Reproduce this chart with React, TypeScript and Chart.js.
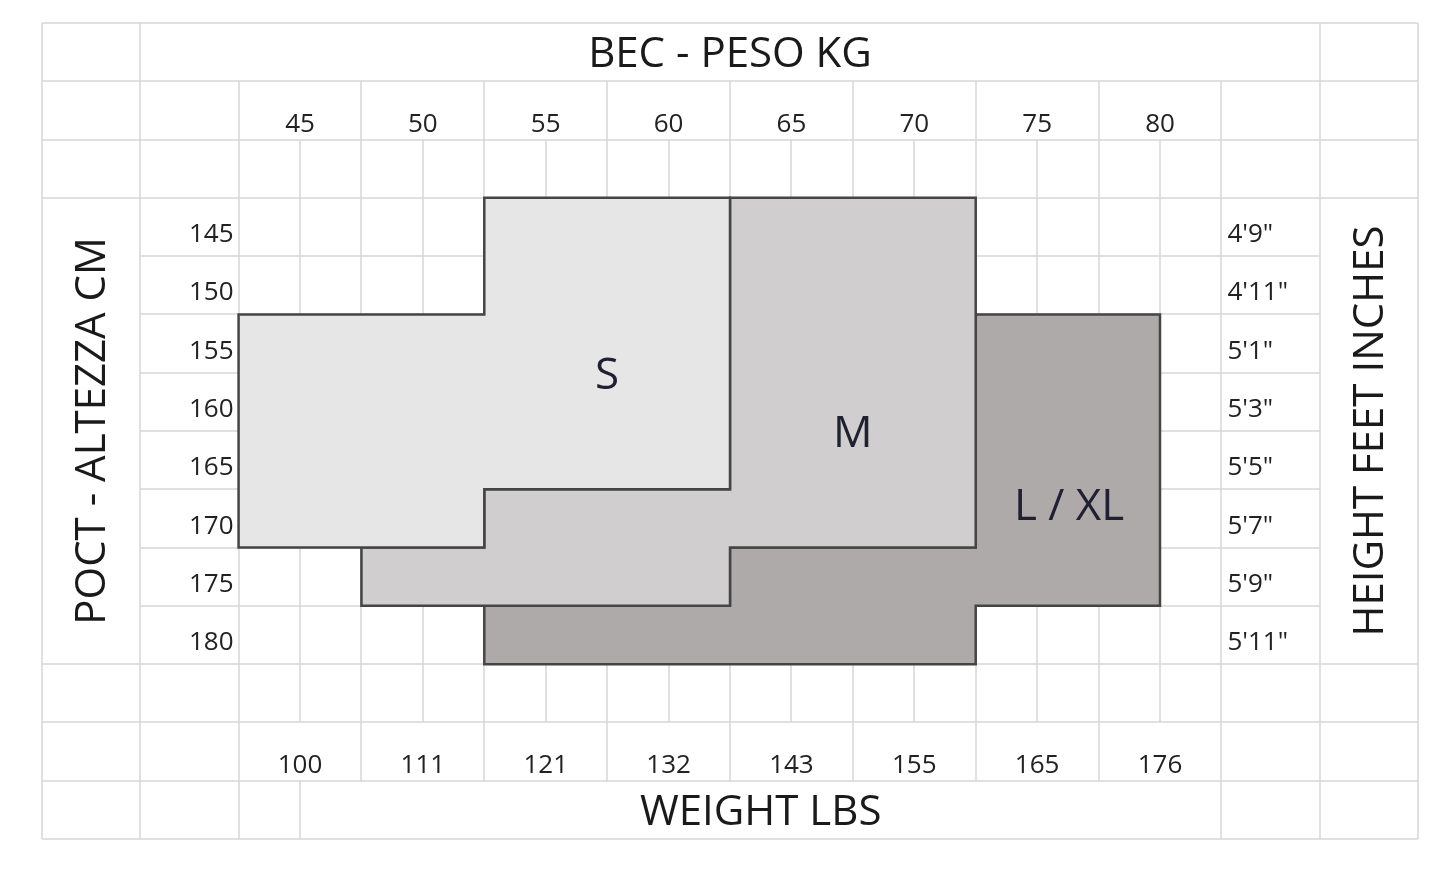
import React, { useEffect, useRef } from 'react';
import { Chart, registerables } from 'chart.js';

Chart.register(...registerables);

// ---- data ----
const kgTicks = [45, 50, 55, 60, 65, 70, 75, 80];
const lbsTicks = ['100', '111', '121', '132', '143', '155', '165', '176'];
const cmTicks = [145, 150, 155, 160, 165, 170, 175, 180];
const feetTicks = [`4'9"`, `4'11"`, `5'1"`, `5'3"`, `5'5"`, `5'7"`, `5'9"`, `5'11"`];

const titleTop = 'BEC - PESO KG';
const titleBottom = 'WEIGHT LBS';
const titleLeft = 'POCT - ALTEZZA CM';
const titleRight = 'HEIGHT FEET INCHES';

const sizeNames = ['S', 'M', 'L / XL'];
// outlines of each size zone (kg, cm)
const sKg = [52.5, 62.5, 62.5, 52.5, 52.5, 42.5, 42.5, 52.5, 52.5];
const sCm = [142.5, 142.5, 167.5, 167.5, 172.5, 172.5, 152.5, 152.5, 142.5];
const mKg = [62.5, 72.5, 72.5, 62.5, 62.5, 47.5, 47.5, 52.5, 52.5, 62.5, 62.5];
const mCm = [142.5, 142.5, 172.5, 172.5, 177.5, 177.5, 172.5, 172.5, 167.5, 167.5, 142.5];
const lKg = [52.5, 62.5, 62.5, 72.5, 72.5, 80, 80, 72.5, 72.5, 52.5, 52.5];
const lCm = [177.5, 177.5, 172.5, 172.5, 152.5, 152.5, 177.5, 177.5, 182.5, 182.5, 177.5];
const labelKg = [57.5, 67.5, 76.3];
const labelCm = [157.8, 162.8, 169.1];

const fills = ['#e7e6e6', '#d0cece', '#aeaaaa'];

const STEP = 5;
const SIDE = 4;
const kMin = kgTicks[0] - STEP / 2;
const kMax = kgTicks[kgTicks.length - 1] + STEP / 2;
const cMin = cmTicks[0] - STEP / 2;
const cMax = cmTicks[cmTicks.length - 1] + STEP / 2;
const xL0 = kMin - 2 * SIDE, xL1 = kMin - SIDE, xR1 = kMax + SIDE, xR0 = kMax + 2 * SIDE;
const yT0 = cMin - 3 * STEP, yT1 = cMin - 2 * STEP, yT2 = cMin - STEP;
const yB1 = cMax + STEP, yB2 = cMax + 2 * STEP, yB0 = cMax + 3 * STEP;

const FONT = '"Open Sans", "DejaVu Sans", sans-serif';

const gridPlugin = {
  id: 'sizeGrid',
  beforeDatasetsDraw(chart: any) {
    const { ctx, scales } = chart;
    const X = (v: number) => scales.x.getPixelForValue(v);
    const Y = (v: number) => scales.y.getPixelForValue(v);
    ctx.save();
    ctx.strokeStyle = '#d6d6d6';
    ctx.lineWidth = 1.5;
    const seg = (x1: number, y1: number, x2: number, y2: number) => {
      ctx.beginPath();
      ctx.moveTo(Math.round(X(x1)), Math.round(Y(y1)));
      ctx.lineTo(Math.round(X(x2)), Math.round(Y(y2)));
      ctx.stroke();
    };
    // horizontal
    [yT0, yT1, yT2, cMin, cMax, yB1, yB2, yB0].forEach((v) => seg(xL0, v, xR0, v));
    cmTicks.slice(0, -1).forEach((c) => seg(xL1, c + STEP / 2, xR1, c + STEP / 2));
    // vertical
    [xL0, xR0, xL1, xR1].forEach((v) => seg(v, yT0, v, yB0));
    [kMin, kMax].forEach((v) => seg(v, yT1, v, yB0));
    kgTicks.slice(0, -1).forEach((k) => seg(k + STEP / 2, yT1, k + STEP / 2, yB2));
    kgTicks.forEach((k) => seg(k, yT2, k, yB1));
    seg(kgTicks[0], yB2, kgTicks[0], yB0);
    ctx.restore();
  },
  afterDatasetsDraw(chart: any) {
    const { ctx, scales } = chart;
    const X = (v: number) => scales.x.getPixelForValue(v);
    const Y = (v: number) => scales.y.getPixelForValue(v);
    ctx.save();
    ctx.fillStyle = '#222222';
    ctx.font = `26px ${FONT}`;
    ctx.textBaseline = 'alphabetic';
    ctx.textAlign = 'center';
    kgTicks.forEach((k) => ctx.fillText(String(k), X(k), Y(yT2) - 8));
    lbsTicks.forEach((t, i) => ctx.fillText(t, X(kgTicks[i]), Y(yB2) - 8));
    ctx.textAlign = 'right';
    cmTicks.forEach((c) => ctx.fillText(String(c), X(kMin) - 5, Y(c + STEP / 2) - 14));
    ctx.textAlign = 'left';
    feetTicks.forEach((t, i) => ctx.fillText(t, X(kMax) + 6, Y(cmTicks[i] + STEP / 2) - 14));

    ctx.fillStyle = '#1a1a1a';
    ctx.font = `42px ${FONT}`;
    ctx.textAlign = 'center';
    ctx.fillText(titleTop, (X(xL1) + X(xR1)) / 2, Y(yT1) - 14);
    ctx.fillText(titleBottom, (X(kgTicks[0]) + X(kMax)) / 2, Y(yB0) - 14);

    ctx.save();
    ctx.translate(X(xL1) - 35, (Y(cMin) + Y(cMax)) / 2);
    ctx.rotate(-Math.PI / 2);
    ctx.fillText(titleLeft, 0, 0);
    ctx.restore();
    ctx.save();
    ctx.translate(X(xR0) - 35, (Y(cMin) + Y(cMax)) / 2);
    ctx.rotate(-Math.PI / 2);
    ctx.fillText(titleRight, 0, 0);
    ctx.restore();

    ctx.fillStyle = '#1f2030';
    ctx.font = `44px ${FONT}`;
    ctx.textBaseline = 'middle';
    sizeNames.forEach((n, i) => ctx.fillText(n, X(labelKg[i]), Y(labelCm[i])));
    ctx.restore();
  },
};

function pts(xs: number[], ys: number[]) {
  return xs.map((x, i) => ({ x, y: ys[i] }));
}

export default function App() {
  const ref = useRef<HTMLCanvasElement | null>(null);
  useEffect(() => {
    if (!ref.current) return;
    const shapes = [
      { name: sizeNames[0], data: pts(sKg, sCm), color: fills[0] },
      { name: sizeNames[1], data: pts(mKg, mCm), color: fills[1] },
      { name: sizeNames[2], data: pts(lKg, lCm), color: fills[2] },
    ];
    const chart = new Chart(ref.current, {
      type: 'line',
      data: {
        datasets: shapes.map((s) => ({
          label: s.name,
          data: s.data,
          fill: 'shape',
          backgroundColor: s.color,
          borderColor: '#454545',
          borderWidth: 2.5,
          pointRadius: 0,
          tension: 0,
          borderJoinStyle: 'miter',
          borderCapStyle: 'square',
        })) as any,
      },
      options: {
        responsive: false,
        animation: false,
        layout: { padding: { left: 42, right: 38, top: 23, bottom: 31 } },
        scales: {
          x: { type: 'linear', display: false, min: xL0, max: xR0 },
          y: { type: 'linear', display: false, min: yT0, max: yB0, reverse: true },
        },
        plugins: { legend: { display: false }, tooltip: { enabled: false } },
      },
      plugins: [gridPlugin],
    });
    return () => chart.destroy();
  }, []);
  return (
    <div style={{ position: 'absolute', left: 0, top: 0, width: 1456, height: 870, background: '#fff' }}>
      <canvas ref={ref} width={1456} height={870} style={{ display: 'block' }} />
    </div>
  );
}
